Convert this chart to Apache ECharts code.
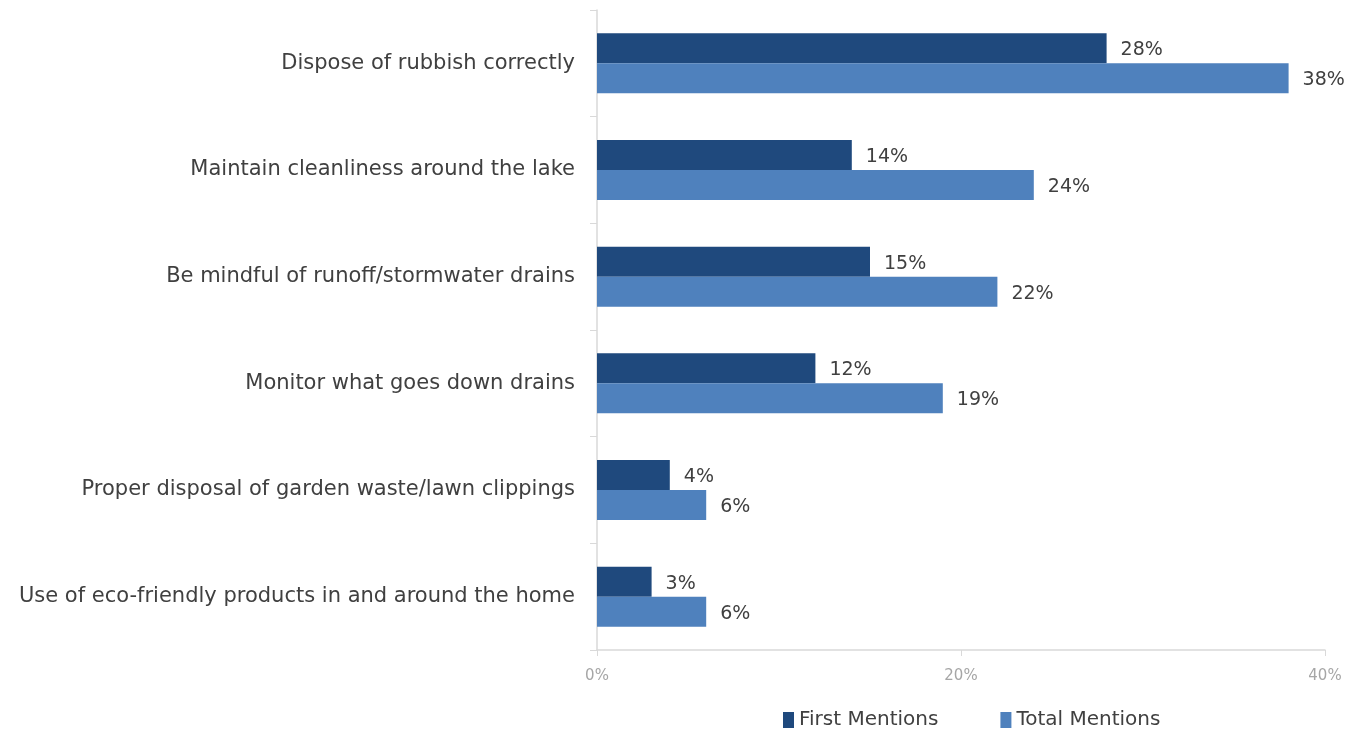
<!DOCTYPE html>
<html>
<head>
<meta charset="utf-8">
<script src="https://cdn.jsdelivr.net/npm/echarts@6/dist/echarts.min.js"></script>
<style>
html,body{margin:0;padding:0;background:#fff;}
#chart{width:1358px;height:733px;}
</style>
</head>
<body>
<div id="chart"></div>
<script>
const categories = [
  "Dispose of rubbish correctly",
  "Maintain cleanliness around the lake",
  "Be mindful of runoff/stormwater drains",
  "Monitor what goes down drains",
  "Proper disposal of garden waste/lawn clippings",
  "Use of eco-friendly products in and around the home"
];
const firstMentions = [28, 14, 15, 12, 4, 3];
const totalMentions = [38, 24, 22, 19, 6, 6];
const xTicks = [0, 20, 40];

const FONT = "'DejaVu Sans', sans-serif";
const chart = echarts.init(document.getElementById('chart'));
chart.setOption({
  animation: false,
  textStyle: {fontFamily: FONT},
  grid: {left: 597, right: 33, top: 10, bottom: 83, containLabel: false},
  legend: {
    top: 710,
    left: 783,
    itemWidth: 11,
    itemHeight: 16,
    itemGap: 62,
    icon: 'rect',
    padding: 0,
    textStyle: {fontFamily: FONT, fontSize: 20, color: '#404040'},
    data: ['First Mentions', 'Total Mentions']
  },
  xAxis: {
    type: 'value',
    min: 0, max: 40, interval: 20,
    axisLine: {show: true, lineStyle: {color: '#d9d9d9', width: 1.5}},
    axisTick: {show: true, length: 6, lineStyle: {color: '#d9d9d9'}},
    splitLine: {show: false},
    axisLabel: {
      color: '#a6a6a6', fontSize: 15, margin: 19, fontFamily: FONT,
      formatter: v => xTicks.includes(v) ? v + '%' : ''
    }
  },
  yAxis: {
    type: 'category',
    data: categories,
    inverse: true,
    axisLine: {show: true, lineStyle: {color: '#d9d9d9', width: 1.5}},
    axisTick: {show: true, length: 7, lineStyle: {color: '#d9d9d9'}},
    axisLabel: {color: '#404040', fontSize: 21, margin: 22, fontFamily: FONT}
  },
  series: [
    {
      name: 'First Mentions', type: 'bar', data: firstMentions,
      barWidth: 30, barGap: '0%',
      itemStyle: {color: '#1f497d'},
      label: {show: true, position: 'right', distance: 14, offset: [0, 2], formatter: '{c}%', color: '#404040', fontSize: 19, fontFamily: FONT}
    },
    {
      name: 'Total Mentions', type: 'bar', data: totalMentions,
      barWidth: 30, barGap: '0%',
      itemStyle: {color: '#4f81bd'},
      label: {show: true, position: 'right', distance: 14, offset: [0, 2], formatter: '{c}%', color: '#404040', fontSize: 19, fontFamily: FONT}
    }
  ]
});
</script>
</body>
</html>
